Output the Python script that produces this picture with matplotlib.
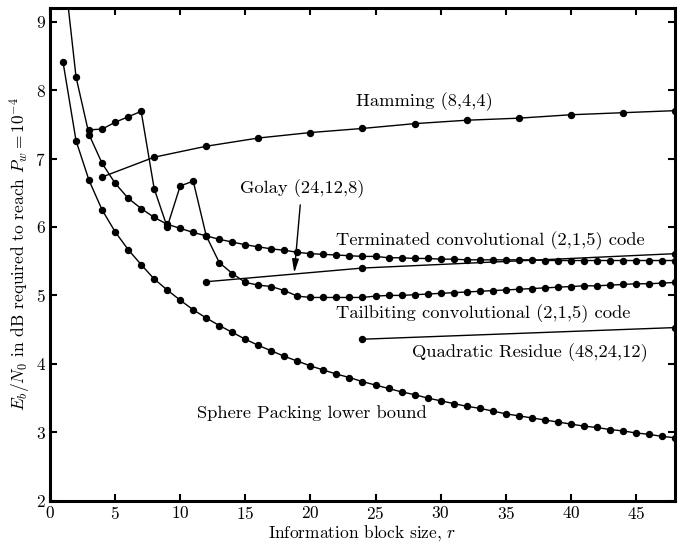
import matplotlib
matplotlib.use("Agg")
import matplotlib.pyplot as plt
import numpy as np

plt.rcParams["font.family"] = "serif"
plt.rcParams["font.serif"] = ["cmr10"]
plt.rcParams["mathtext.fontset"] = "cm"
plt.rcParams["axes.formatter.use_mathtext"] = True

# informacna dlzka bloku r
r_all = np.arange(1, 49)
r_tail = np.arange(3, 49)
r_hamming = [4, 8, 12, 16, 20, 24, 28, 32, 36, 40, 44, 48]
r_golay = [12, 24, 48]
r_qr = [24, 48]

sphere = [8.41, 7.26, 6.68, 6.25, 5.93, 5.67, 5.45, 5.24, 5.08, 4.93,
          4.79, 4.67, 4.56, 4.46, 4.36, 4.27, 4.19, 4.11, 4.04, 3.97,
          3.91, 3.85, 3.80, 3.74, 3.69, 3.64, 3.59, 3.55, 3.50, 3.46,
          3.42, 3.38, 3.35, 3.31, 3.27, 3.24, 3.21, 3.18, 3.15, 3.12,
          3.09, 3.07, 3.04, 3.02, 2.99, 2.97, 2.94, 2.92]
terminated = [9.9, 8.19, 7.35, 6.93, 6.64, 6.42, 6.27, 6.14, 6.04, 5.98,
              5.92, 5.87, 5.82, 5.78, 5.74, 5.71, 5.68, 5.66, 5.63, 5.61,
              5.60, 5.59, 5.58, 5.57, 5.57, 5.55, 5.55, 5.54, 5.54, 5.53,
              5.53, 5.52, 5.52, 5.52, 5.52, 5.52, 5.52, 5.51, 5.51, 5.51,
              5.51, 5.51, 5.51, 5.51, 5.51, 5.51, 5.51, 5.51]
tailbiting = [7.42, 7.43, 7.53, 7.61, 7.69, 6.56, 6.00, 6.60, 6.67, 5.87,
              5.48, 5.32, 5.19, 5.15, 5.13, 5.07, 4.99, 4.97, 4.97, 4.97,
              4.97, 4.97, 4.99, 5.00, 5.00, 5.01, 5.02, 5.03, 5.04, 5.05,
              5.06, 5.07, 5.08, 5.09, 5.10, 5.11, 5.12, 5.13, 5.14, 5.14,
              5.15, 5.16, 5.17, 5.17, 5.18, 5.19]
hamming = [6.73, 7.02, 7.18, 7.30, 7.38, 7.44, 7.51, 7.56, 7.59, 7.64, 7.67, 7.70]
golay = [5.20, 5.40, 5.61]
qr = [4.36, 4.53]

fig = plt.figure(figsize=(6.87, 5.48), dpi=100)
ax = fig.add_axes([0.0728, 0.0863, 0.9097, 0.8991])

styl = dict(color="black", marker="o", markersize=4.3, linewidth=1.0)
ax.plot(r_all, sphere, **styl)
ax.plot(r_all, terminated, **styl)
ax.plot(r_tail, tailbiting, **styl)
ax.plot(r_hamming, hamming, **styl)
ax.plot(r_golay, golay, **styl)
ax.plot(r_qr, qr, **styl)

fs = 13.3
ax.text(23.5, 7.83, "Hamming (8,4,4)", fontsize=fs, va="center", ha="left")
ax.text(22.0, 5.80, "Terminated convolutional (2,1,5) code", fontsize=fs, va="center", ha="left")
ax.text(22.0, 4.74, "Tailbiting convolutional (2,1,5) code", fontsize=fs, va="center", ha="left")
ax.text(27.8, 4.17, "Quadratic Residue (48,24,12)", fontsize=fs, va="center", ha="left")
ax.text(11.3, 3.28, "Sphere Packing lower bound", fontsize=fs, va="center", ha="left")
ax.annotate("Golay (24,12,8)", xy=(18.76, 5.33), xytext=(19.33, 6.56),
            fontsize=fs, ha="center", va="center",
            arrowprops=dict(arrowstyle="-|>,head_length=0.6,head_width=0.15",
                            color="black", lw=1.0, shrinkA=3, shrinkB=0))

ax.set_xlim(0, 48)
ax.set_ylim(2, 9.2)
ax.set_xticks(range(0, 50, 5))
ax.set_yticks(range(2, 10))
ax.tick_params(direction="in", top=True, right=True, length=5, width=1.5,
               labelsize=12.5, pad=3)
for s in ax.spines.values():
    s.set_linewidth(2.2)

ax.set_xlabel("Information block size, $r$", fontsize=12.5, labelpad=1)
ax.set_ylabel("$E_b/N_0$ in dB required to reach $P_w = 10^{-4}$", fontsize=12.5, labelpad=2)

fig.savefig("out.png", dpi=100)
